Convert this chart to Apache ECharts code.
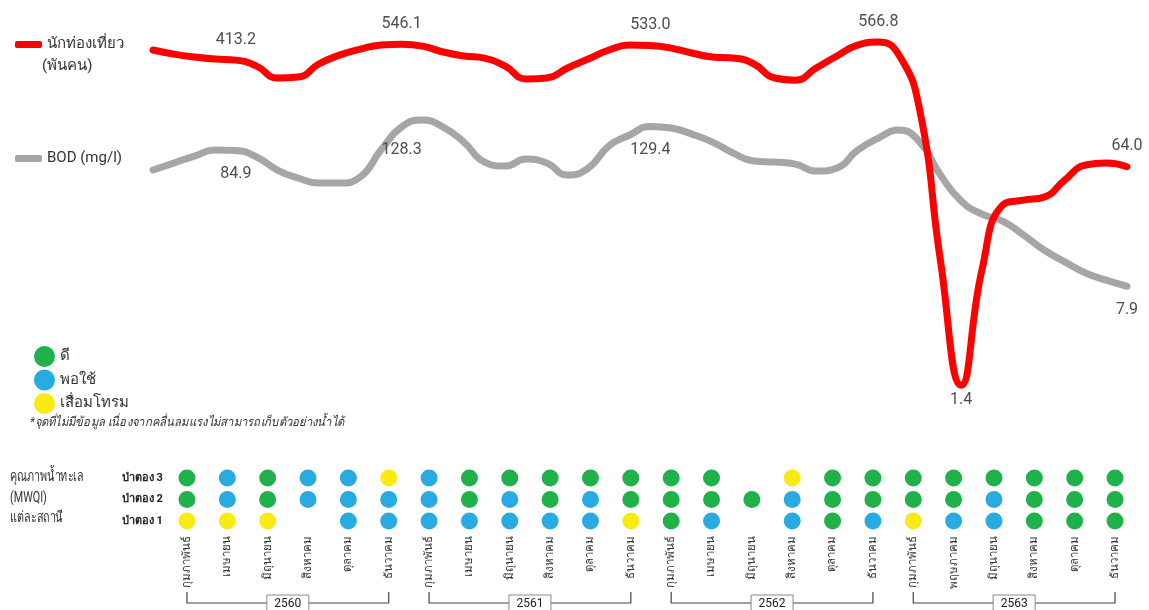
<!DOCTYPE html>
<html>
<head>
<meta charset="utf-8">
<script src="https://cdn.jsdelivr.net/npm/echarts@6/dist/echarts.min.js"></script>
<style>
html,body{margin:0;padding:0;background:#fff;}
#c{width:1149px;height:610px;}
</style>
</head>
<body>
<div id="c"></div>
<script>
// ---- Line data (monthly, Jan 2560 – Dec 2563) ----
const lineMonths = [
  'ม.ค. 60','ก.พ. 60','มี.ค. 60','เม.ย. 60','พ.ค. 60','มิ.ย. 60','ก.ค. 60','ส.ค. 60','ก.ย. 60','ต.ค. 60','พ.ย. 60','ธ.ค. 60',
  'ม.ค. 61','ก.พ. 61','มี.ค. 61','เม.ย. 61','พ.ค. 61','มิ.ย. 61','ก.ค. 61','ส.ค. 61','ก.ย. 61','ต.ค. 61','พ.ย. 61','ธ.ค. 61',
  'ม.ค. 62','ก.พ. 62','มี.ค. 62','เม.ย. 62','พ.ค. 62','มิ.ย. 62','ก.ค. 62','ส.ค. 62','ก.ย. 62','ต.ค. 62','พ.ย. 62','ธ.ค. 62',
  'ม.ค. 63','ก.พ. 63','มี.ค. 63','เม.ย. 63','พ.ค. 63','มิ.ย. 63','ก.ค. 63','ส.ค. 63','ก.ย. 63','ต.ค. 63','พ.ย. 63','ธ.ค. 63'
];
const tourists = [
  493, 459, 436, 421, 413.2, 372, 302, 307, 386, 451, 501, 538,
  546.1, 528, 476, 444, 428, 372, 297, 302, 360, 421, 493, 538,
  533.0, 510, 468, 436, 428, 386, 302, 291, 360, 444, 538, 566.8,
  451, 172, 12.3, 1.4, 10.5, 32.7, 35.7, 37.6, 50.7, 65.9, 68.2, 64.0
];
const bod = [
  60.4, 68.2, 77.1, 85.6, 84.9, 75.8, 60.4, 52.5, 48.1, 48.1, 53.4, 85.6,
  128.3, 144.8, 128.1, 98.5, 69.4, 64.7, 73.2, 68.2, 55.3, 62.5, 91.9, 111.4,
  129.4, 125.9, 113.3, 98.5, 81.2, 70.7, 69.4, 67.0, 59.3, 62.5, 85.6, 105.7,
  121.5, 98.5, 55.3, 35.1, 27.9, 24.7, 19.4, 14.9, 12.1, 9.96, 8.8, 7.9
];
const touristLabelled = [4, 12, 24, 35, 39, 47];
const touristLabelBelow = [39];
const bodLabelled = [4, 12, 24, 47];

// ---- Water quality (MWQI) per sampling ----
const years = ['2560', '2561', '2562', '2563'];
const samplingMonths = [
  'กุมภาพันธ์','เมษายน','มิถุนายน','สิงหาคม','ตุลาคม','ธันวาคม',
  'กุมภาพันธ์','เมษายน','มิถุนายน','สิงหาคม','ตุลาคม','ธันวาคม',
  'กุมภาพันธ์','เมษายน','มิถุนายน','สิงหาคม','ตุลาคม','ธันวาคม',
  'กุมภาพันธ์','พฤษภาคม','มิถุนายน','สิงหาคม','ตุลาคม','ธันวาคม'
];
const stations = ['ป่าตอง 1', 'ป่าตอง 2', 'ป่าตอง 3'];
const qualityNames = ['ดี', 'พอใช้', 'เสื่อมโทรม'];
// G = ดี, B = พอใช้, Y = เสื่อมโทรม, null = no data
const station1 = ['Y','Y','Y',null,'B','B', 'B','B','B','B','B','Y', 'G','B',null,'B','G','B', 'Y','B','B','G','G','G'];
const station2 = ['G','B','G','B','B','B', 'B','G','B','G','B','G', 'G','G','G','B','G','G', 'G','G','B','G','G','G'];
const station3 = ['G','B','G','B','B','Y', 'B','G','G','G','G','G', 'G','G',null,'Y','G','G', 'G','G','G','G','G','G'];
const samplesPerYear = 6;

const FONT = 'Roboto, "Noto Sans", "DejaVu Sans", sans-serif';
const codeToIdx = {G: 0, B: 1, Y: 2};
const qualityColors = ['#21b14b', '#29abe2', '#f9ea14'];
const RED = '#ff0000', GREY = '#a6a6a6';

const stationRows = [station1, station2, station3];
const scatterData = qualityNames.map(() => []);
stationRows.forEach((row, r) => {
  row.forEach((code, c) => {
    if (code) scatterData[codeToIdx[code]].push([c, r]);
  });
});

function buildLine(values, labelled, below, pos) {
  return values.map((v, i) => {
    if (labelled.indexOf(i) < 0) return v;
    const isBelow = below.indexOf(i) >= 0 || pos === 'bottom';
    return {
      value: v,
      label: {
        show: true,
        position: isBelow ? 'bottom' : 'top',
        distance: isBelow ? (pos === 'bottom' ? 15 : 6) : 12,
        formatter: p => Number(p.value).toFixed(1)
      }
    };
  });
}

const chart = echarts.init(document.getElementById('c'));
const valueLabel = {show: false, fontFamily: FONT, fontSize: 16, color: '#4d4d4d'};

chart.setOption({
  backgroundColor: '#fff',
  animation: false,
  textStyle: {fontFamily: FONT},
  grid: [
    {left: 153, right: 22, top: 9.6, height: 394.8},
    {left: 166.8, right: 13.8, top: 467.25, height: 64.5}
  ],
  legend: [
    {
      data: [{name: 'นักท่องเที่ยว', itemStyle: {color: RED, opacity: 1}}],
      left: 10, top: 32, icon: 'roundRect',
      itemWidth: 27, itemHeight: 7,
      textStyle: {fontSize: 15, color: '#333', fontFamily: FONT}
    },
    {
      data: [{name: 'BOD (mg/l)', itemStyle: {color: GREY, opacity: 1}}],
      left: 10, top: 146, icon: 'roundRect',
      itemWidth: 27, itemHeight: 7,
      textStyle: {fontSize: 15, color: '#333', fontFamily: FONT}
    },
    {
      data: qualityNames, orient: 'vertical', left: 29, top: 341,
      icon: 'circle', itemWidth: 21, itemHeight: 21, itemGap: 2.5,
      textStyle: {fontSize: 15, color: '#333', fontFamily: FONT}
    }
  ],
  xAxis: [
    {type: 'category', gridIndex: 0, data: lineMonths, boundaryGap: false, show: false},
    {
      type: 'category', gridIndex: 1, data: samplingMonths, boundaryGap: true,
      axisLine: {show: false}, axisTick: {show: false},
      axisLabel: {rotate: 90, interval: 0, margin: 4, fontSize: 11.5, color: '#333', fontFamily: FONT}
    }
  ],
  yAxis: [
    {type: 'log', gridIndex: 0, min: 1, max: 1000, show: false},
    {
      type: 'category', gridIndex: 1, data: stations,
      axisLine: {show: false}, axisTick: {show: false}, splitLine: {show: false},
      axisLabel: {margin: 4, fontSize: 11, fontWeight: 'bold', color: '#222', fontFamily: FONT}
    }
  ],
  series: [
    {
      name: 'BOD (mg/l)', type: 'line', xAxisIndex: 0, yAxisIndex: 0,
      data: buildLine(bod, bodLabelled, [], 'bottom'),
      smooth: 0.5, showSymbol: true, symbol: 'circle', symbolSize: 1,
      lineStyle: {color: GREY, width: 7, cap: 'round'},
      itemStyle: {color: GREY},
      label: valueLabel, z: 2
    },
    {
      name: 'นักท่องเที่ยว', type: 'line', xAxisIndex: 0, yAxisIndex: 0,
      data: buildLine(tourists, touristLabelled, touristLabelBelow, 'top'),
      smooth: 0.5, showSymbol: true, symbol: 'circle', symbolSize: 1,
      lineStyle: {color: RED, width: 7, cap: 'round'},
      itemStyle: {color: RED},
      label: valueLabel, z: 3
    }
  ].concat(qualityNames.map((name, i) => ({
    name: name, type: 'scatter', xAxisIndex: 1, yAxisIndex: 1,
    data: scatterData[i], symbol: 'circle', symbolSize: 17,
    itemStyle: {color: qualityColors[i], opacity: 1}
  })))
});

// Year brackets + static texts
function bracketGraphics() {
  const g = [];
  const yLine = 603, yTop = 592;
  years.forEach((yr, k) => {
    const x0 = chart.convertToPixel({xAxisIndex: 1}, k * samplesPerYear);
    const x1 = chart.convertToPixel({xAxisIndex: 1}, k * samplesPerYear + samplesPerYear - 1);
    const xm = (x0 + x1) / 2;
    g.push({type: 'polyline', shape: {points: [[x0, yTop], [x0, yLine], [x1, yLine], [x1, yTop]]},
      style: {stroke: '#444', lineWidth: 1.2, fill: null}, silent: true});
    g.push({type: 'rect', shape: {x: xm - 21, y: 595, width: 42, height: 17},
      style: {fill: '#fff', stroke: '#888', lineWidth: 1}, z: 10});
    g.push({type: 'text', x: xm, y: 603.5, z: 11,
      style: {text: yr, fill: '#222', font: '12px ' + FONT, align: 'center', verticalAlign: 'middle'}});
  });
  g.push({type: 'text', x: 42, y: 59,
    style: {text: '(พันคน)', fill: '#333', font: '15px ' + FONT}});
  g.push({type: 'text', x: 30, y: 416, scaleX: 0.9,
    style: {text: '*จุดที่ไม่มีข้อมูล เนื่องจากคลื่นลมแรงไม่สามารถเก็บตัวอย่างน้ำได้', fill: '#333',
      font: 'italic 12.5px ' + FONT}});
  g.push({type: 'text', x: 10, y: 467, scaleX: 0.72,
    style: {text: 'คุณภาพน้ำทะเล\n(MWQI)\nแต่ละสถานี', fill: '#333', font: '15px ' + FONT, lineHeight: 20.5}});
  return g;
}
chart.setOption({graphic: bracketGraphics()});
</script>
</body>
</html>
